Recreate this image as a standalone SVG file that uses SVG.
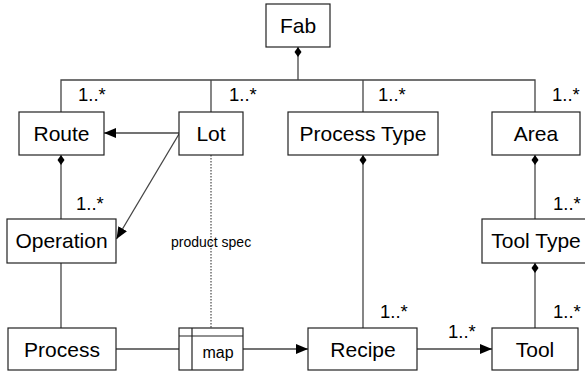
<svg xmlns="http://www.w3.org/2000/svg" width="585" height="375" viewBox="0 0 585 375">
  <defs>
    <style>
      .box { fill: #fff; stroke: #222; stroke-width: 1.2; }
      .name { font-family: "Liberation Sans", Arial, sans-serif; font-size: 21px; fill: #000; text-anchor: middle; }
      .mult { font-family: "Liberation Sans", Arial, sans-serif; font-size: 18.5px; fill: #000; }
      .note { font-family: "Liberation Sans", Arial, sans-serif; font-size: 14px; fill: #000; }
      .line { fill: none; stroke: #444; stroke-width: 1.3; }
      .dots { fill: none; stroke: #222; stroke-width: 1; stroke-dasharray: 1.5 1.5; }
    </style>
    <marker id="arrow" viewBox="0 0 12 10" refX="12" refY="5" markerWidth="12" markerHeight="10" markerUnits="userSpaceOnUse" orient="auto">
      <path d="M0,0 L12,5 L0,10 Z" fill="#000"/>
    </marker>
    <marker id="diamond" viewBox="0 0 10 8" refX="0" refY="4" markerWidth="10" markerHeight="8" markerUnits="userSpaceOnUse" orient="auto">
      <path d="M0,4 L5,0.5 L10,4 L5,7.5 Z" fill="#000"/>
    </marker>
  </defs>

  <g id="connectors">
    <!-- Fab composition bus -->
    <path class="line" d="M298,47 L298,80" marker-start="url(#diamond)"/>
    <path class="line" d="M61,112 L61,80 L535,80 L535,112"/>
    <path class="line" d="M211,80 L211,112"/>
    <path class="line" d="M363,80 L363,112"/>
    <!-- Route to Operation -->
    <path class="line" d="M61,155 L61,219" marker-start="url(#diamond)"/>
    <!-- Operation to Process -->
    <path class="line" d="M61,263 L61,328"/>
    <!-- Lot associations -->
    <path class="line" d="M179,133 L104,133" marker-end="url(#arrow)"/>
    <path class="line" d="M179,134 L116.5,239" marker-end="url(#arrow)"/>
    <path class="dots" d="M211,155 L211,336"/>
    <!-- Process Type to Recipe -->
    <path class="line" d="M363,155 L363,328" marker-start="url(#diamond)"/>
    <!-- Area to Tool Type -->
    <path class="line" d="M535,155 L535,219" marker-start="url(#diamond)"/>
    <!-- Tool Type to Tool -->
    <path class="line" d="M535,263 L535,328" marker-start="url(#diamond)"/>
    <!-- Process, map, Recipe, Tool chain -->
    <path class="line" d="M116,349 L179,349"/>
    <path class="line" d="M243,349 L308,349" marker-end="url(#arrow)"/>
    <path class="line" d="M417,349 L492,349" marker-end="url(#arrow)"/>
  </g>

  <g id="fab">
    <rect class="box" x="266" y="4" width="64" height="43"/>
    <text class="name" x="298" y="33">Fab</text>
  </g>
  <g id="route">
    <rect class="box" x="19" y="112" width="85" height="43"/>
    <text class="name" x="61.5" y="141">Route</text>
  </g>
  <g id="lot">
    <rect class="box" x="179" y="112" width="64" height="43"/>
    <text class="name" x="211" y="141">Lot</text>
  </g>
  <g id="process-type">
    <rect class="box" x="288" y="112" width="150" height="43"/>
    <text class="name" x="363" y="141">Process Type</text>
  </g>
  <g id="area">
    <rect class="box" x="492" y="112" width="88" height="43"/>
    <text class="name" x="536" y="141">Area</text>
  </g>
  <g id="operation">
    <rect class="box" x="7" y="219" width="109" height="44"/>
    <text class="name" x="61.5" y="248">Operation</text>
  </g>
  <g id="tool-type">
    <rect class="box" x="482" y="219" width="108" height="44"/>
    <text class="name" x="536" y="248">Tool Type</text>
  </g>
  <g id="process">
    <rect class="box" x="8" y="328" width="108" height="42"/>
    <text class="name" x="62" y="356.5">Process</text>
  </g>
  <g id="map">
    <rect class="box" x="179" y="328" width="64" height="42"/>
    <path class="box" d="M179,336 L243,336 M192,328 L192,370"/>
    <text class="name" x="218" y="358" style="font-size:16px">map</text>
  </g>
  <g id="recipe">
    <rect class="box" x="308" y="328" width="109" height="42"/>
    <text class="name" x="363" y="356.5">Recipe</text>
  </g>
  <g id="tool">
    <rect class="box" x="492" y="328" width="86" height="42"/>
    <text class="name" x="535" y="356.5">Tool</text>
  </g>

  <g id="labels">
    <text class="mult" x="78" y="101">1..*</text>
    <text class="mult" x="229" y="101">1..*</text>
    <text class="mult" x="378" y="101">1..*</text>
    <text class="mult" x="552" y="101">1..*</text>
    <text class="mult" x="76" y="210">1..*</text>
    <text class="mult" x="553" y="210">1..*</text>
    <text class="mult" x="380" y="318">1..*</text>
    <text class="mult" x="553" y="318">1..*</text>
    <text class="mult" x="448" y="338">1..*</text>
    <text class="note" x="171" y="247">product spec</text>
  </g>
</svg>
